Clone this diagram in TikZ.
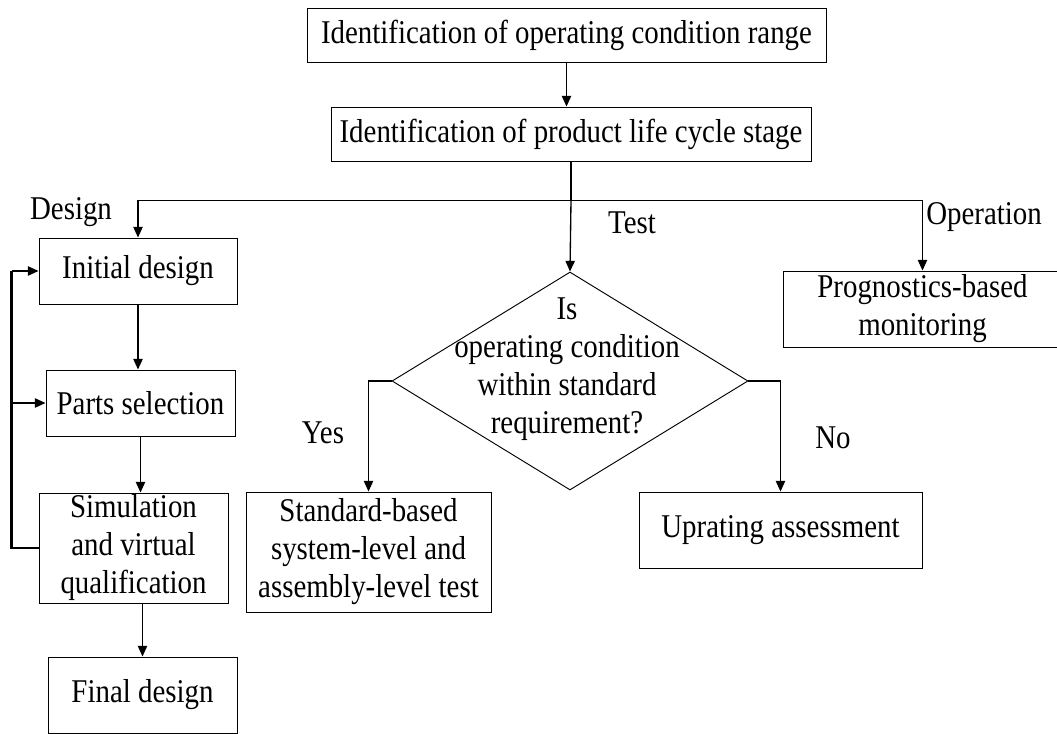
\documentclass[tikz,border=0pt]{standalone}
\usepackage{fontspec}
\setmainfont{Liberation Serif}[FakeStretch=0.87]
\usetikzlibrary{shapes.geometric,arrows.meta,calc}

\begin{document}
\begin{tikzpicture}[x=0.75pt,y=-0.75pt,
  every node/.style={font=\fontsize{24.9pt}{28.5pt}\selectfont, inner sep=0pt, align=center},
  box/.style n args={2}{draw, line width=0.7pt, minimum width=#1*0.75pt, minimum height=#2*0.75pt},
  decision/.style n args={2}{draw, diamond, line width=0.7pt, minimum width=#1*0.75pt, minimum height=#2*0.75pt},
  link/.style={line width=1pt, -{Triangle[length=8pt,width=7pt]}},
  plain/.style={line width=1pt},
  loopline/.style={line width=1.6pt}]
\useasboundingbox (0,0) rectangle (1057,734);

% main stages
\node[box={519}{54}] (range) at (566.5,35) {Identification of operating condition range};
\node[box={480}{54}] (stage) at (571,134) {Identification of product life cycle stage};

% design branch
\node[box={198}{66}] (init) at (138,271) {Initial design};
\node[box={189}{66}] (parts) at (140.5,403) {Parts selection};
\node[box={189}{110}] (sim) at (133.5,548) {Simulation\\and virtual\\qualification};
\node[box={189}{76}] (final) at (142.5,695) {Final design};

% test branch
\node[decision={356}{218}] (dia) at (570,381) {};
\node (diatext) at (567,369) {Is\\operating condition\\within standard\\requirement?};
\node[box={245}{120}] (std) at (368.5,552) {Standard-based\\system-level and\\assembly-level test};
\node[box={283}{76}] (upr) at (780.5,530) {Uprating assessment};

% operation branch
\node[box={279}{76}] (prog) at (922.5,309) {Prognostics-based\\monitoring};

% branch labels
\node (ldesign) at (71,212) {Design};
\node (ltest) at (632,223) {Test};
\node (loper) at (984,217) {Operation};
\node (lyes) at (323,433) {Yes};
\node (lno) at (833,438) {No};

% connectors
\draw[link] (range.south) -- (range.south |- stage.north);
\coordinate (split) at ($(stage.south)+(0,39)$);
\draw[plain] (stage.south) -- (split);
\draw[link] (split) -- (dia.north);
\draw[link] (split) -| (init.north);
\draw[link] (split) -| (prog.north);

\draw[link] (init.south) -- (init.south |- parts.north);
\draw[link] (parts.south) -- (parts.south |- sim.north);
\draw[link] (final.north |- sim.south) -- (final.north);

% feedback from virtual qualification
\coordinate (back) at ($(sim.west)+(-27,0)$);
\draw[loopline] (sim.west) -- (back) -- (back |- init.west);
\draw[link] (back |- init.west) -- (init.west);
\draw[link] (back |- parts.west) -- (parts.west);

% decision outcomes
\draw[link] (dia.west) -| (std.north);
\draw[link] (dia.east) -| (upr.north);
\end{tikzpicture}
\end{document}
